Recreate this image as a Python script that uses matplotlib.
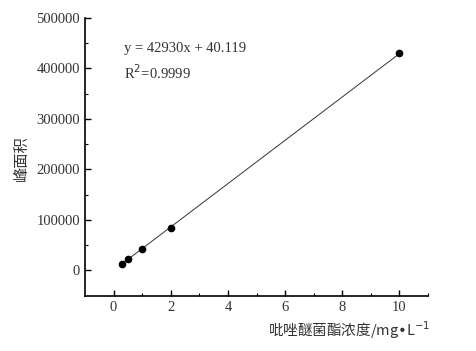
import matplotlib.pyplot as plt
import numpy as np

plt.rcParams['font.family'] = ['Liberation Serif', 'Noto Sans CJK SC']

# calibration data
conc = [0.3, 0.5, 1, 2, 10]
area = [13000, 21500, 43000, 83000, 430000]
slope = 42930
intercept = 40.119

fig = plt.figure(figsize=(4.76, 3.51), dpi=100)
ax = fig.add_axes((0.1786, 0.1567, 0.7206, 0.792))

xfit = np.array([conc[0], conc[-1]])
ax.plot(xfit, slope * xfit + intercept, color='#333333', lw=0.7)
ax.plot(conc, area, 'o', color='black', ms=4.5)

ax.set_xlim(-1, 11)
ax.set_ylim(-51000, 500000)
ax.set_xticks([0, 2, 4, 6, 8, 10])
ax.set_xticks([1, 3, 5, 7, 9, 11], minor=True)
ax.set_yticks([0, 100000, 200000, 300000, 400000, 500000])
ax.set_yticks([50000, 150000, 250000, 350000, 450000], minor=True)
ax.tick_params(which='both', direction='in', labelsize=10.5, colors='black')
ax.tick_params(which='major', length=4, width=1)
ax.tick_params(which='minor', length=2, width=0.8)
ax.spines['top'].set_visible(False)
ax.spines['right'].set_visible(False)
ax.spines['left'].set_linewidth(1.2)
ax.spines['bottom'].set_linewidth(1.2)
for lab in ax.get_xticklabels() + ax.get_yticklabels():
    lab.set_color('#333333')

ax.text(0.115, 0.89, 'y = 42930x + 40.119', transform=ax.transAxes,
        fontsize=10.5, color='#333333', va='center')
ax.text(0.115, 0.805, 'R$^2$=0.9999', transform=ax.transAxes,
        fontsize=10.5, color='#333333', va='center')

fig.text(0.045, 0.55, '峰面积', rotation=90, fontsize=11,
         family=['Noto Sans CJK SC'], ha='center', va='center', color='#333333')
fig.text(0.905, 0.06, '吡唑醚菌酯浓度/mg•L$^{-1}$', fontsize=10.5,
         family=['Noto Sans CJK SC', 'DejaVu Sans'], ha='right', va='center', color='#333333')

fig.savefig('out.png', dpi=100)
